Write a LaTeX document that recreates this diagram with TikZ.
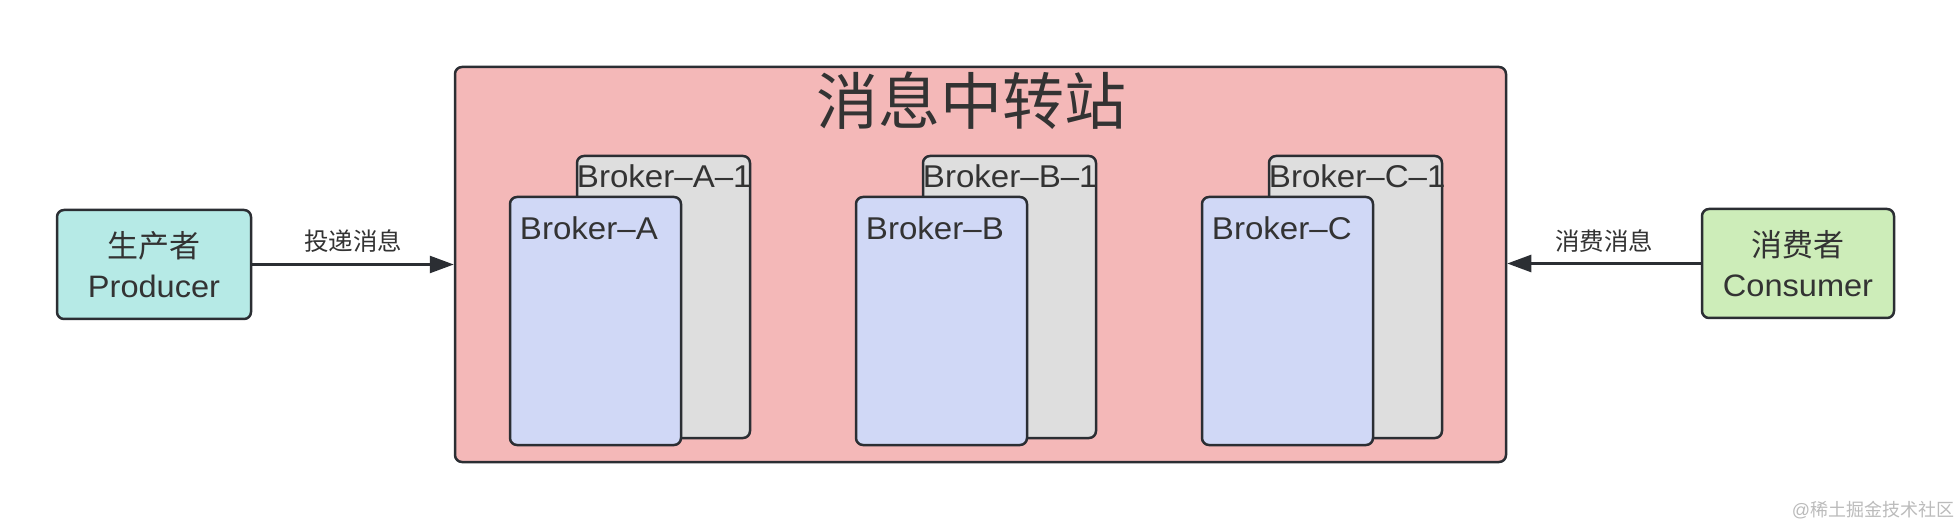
\documentclass[tikz,border=0pt]{standalone}
\usepackage{fontspec}
\setmainfont[FakeStretch=1.05]{Liberation Sans}
\newfontfamily\plainlatin{Liberation Sans}
\newfontfamily\cjk{Noto Sans CJK SC}
\usetikzlibrary{arrows.meta}
\definecolor{edgec}{HTML}{2B2E33}
\definecolor{txtc}{HTML}{333333}
\definecolor{prodfill}{HTML}{B6EAE6}
\definecolor{consfill}{HTML}{CDEDB9}
\definecolor{hubfill}{HTML}{F4B8B8}
\definecolor{bluefill}{HTML}{D0D8F6}
\definecolor{grayfill}{HTML}{DEDEDE}
\definecolor{markc}{HTML}{BBBBBB}
\begin{document}
\begin{tikzpicture}[x=1pt,y=-1pt,
  box/.style={draw=edgec, line width=2.5pt, rounded corners=7pt, inner sep=0pt, text=txtc},
  actor/.style={box, align=center, font=\fontsize{31pt}{40pt}\selectfont},
  hub/.style={box, fill=hubfill},
  front/.style={box, fill=bluefill},
  back/.style={box, fill=grayfill},
  blabel/.style={anchor=west, inner sep=0pt, text=txtc, font=\fontsize{31.5pt}{36pt}\selectfont},
  elabel/.style={text=txtc, inner sep=0pt, font=\cjk\fontsize{24.5pt}{28pt}\selectfont},
  conn/.style={draw=edgec, line width=2.5pt, -{Triangle[length=24pt,width=17pt]}}
]
\useasboundingbox (0,0) rectangle (1960,526);
\fill[white] (0,0) rectangle (1960,526);

% hub
\node[hub, minimum width=1051pt, minimum height=395pt] (hub) at (980.5,264.5) {};
\node[text=txtc, inner sep=0pt, font=\cjk\fontsize{62pt}{70pt}\selectfont] (title) at (971,101) {消息中转站};

% brokers
\node[back, minimum width=173pt, minimum height=282pt] (ga) at (663.5,297) {};
\node[front, minimum width=171pt, minimum height=248pt] (ba) at (595.5,321) {};
\node[back, minimum width=173pt, minimum height=282pt] (gb) at (1009.5,297) {};
\node[front, minimum width=171pt, minimum height=248pt] (bb) at (941.5,321) {};
\node[back, minimum width=173pt, minimum height=282pt] (gc) at (1355.5,297) {};
\node[front, minimum width=171pt, minimum height=248pt] (bc) at (1287.5,321) {};

\node[blabel] (gal) at ([xshift=1pt,yshift=-21pt]ga.north west) {Broker–A–1};
\node[blabel] (bal) at ([xshift=11pt,yshift=-32pt]ba.north west) {Broker–A};
\node[blabel] (gbl) at ([xshift=1pt,yshift=-21pt]gb.north west) {Broker–B–1};
\node[blabel] (bbl) at ([xshift=11pt,yshift=-32pt]bb.north west) {Broker–B};
\node[blabel] (gcl) at ([xshift=1pt,yshift=-21pt]gc.north west) {Broker–C–1};
\node[blabel] (bcl) at ([xshift=11pt,yshift=-32pt]bc.north west) {Broker–C};

% actors
\node[actor, fill=prodfill, minimum width=194pt, minimum height=109pt] (prod) at (154,264.5) {{\cjk 生产者}\\Producer};
\node[actor, fill=consfill, minimum width=192pt, minimum height=109pt] (cons) at (1798,263.5) {{\cjk 消费者}\\Consumer};

% connectors
\draw[conn] (prod) -- node[elabel, yshift=23pt] (l1) {投递消息} (hub);
\draw[conn] (cons) -- node[elabel, yshift=22pt] (l2) {消费消息} (hub.east |- cons.east);

% watermark
\node[text=markc, inner sep=0pt, font=\plainlatin\fontsize{18pt}{20pt}\selectfont] (mark) at (1873,510) {@{\cjk 稀土掘金技术社区}};
\end{tikzpicture}
\end{document}
